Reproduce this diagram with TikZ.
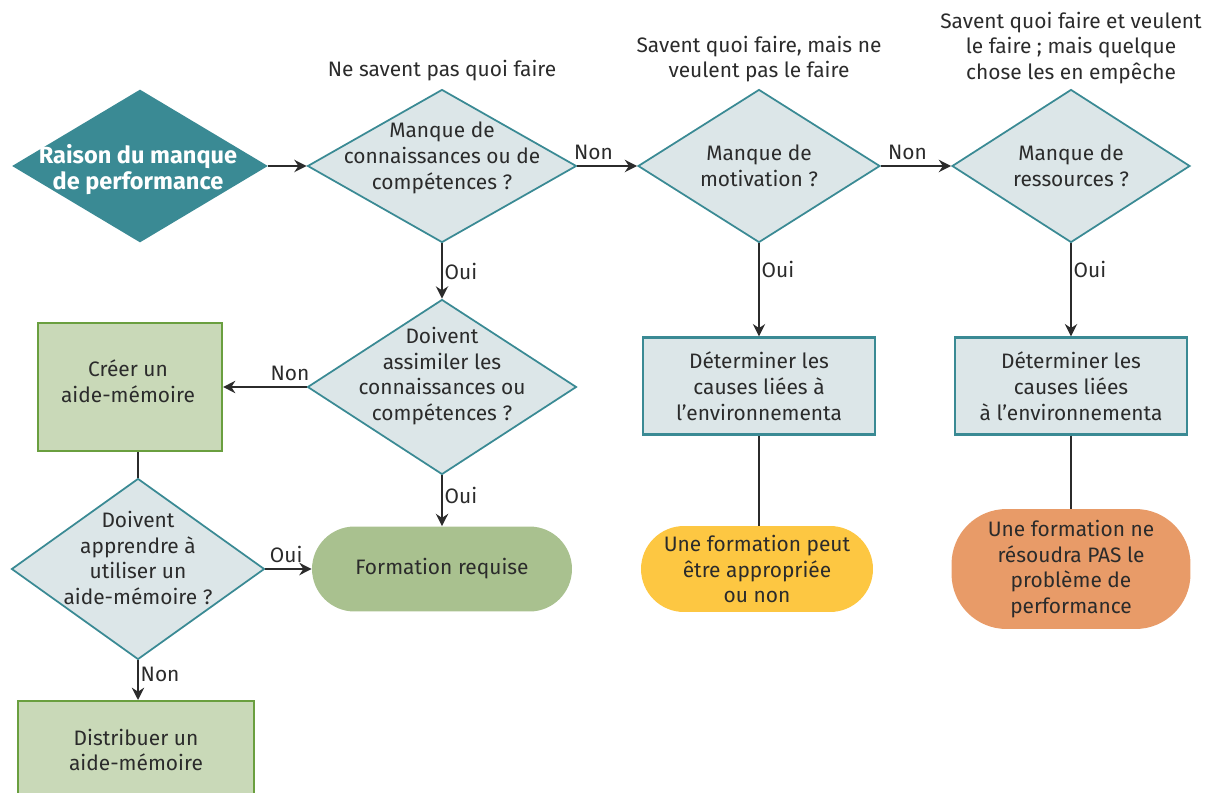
\documentclass[tikz,border=0pt]{standalone}
\usepackage{fontspec}
\setmainfont{Fira Sans}
\usetikzlibrary{shapes.geometric,shapes.misc,arrows.meta}
\definecolor{teal}{HTML}{3A8A94}
\definecolor{pale}{HTML}{DCE6E8}
\definecolor{leaf}{HTML}{C9D9B8}
\definecolor{leafedge}{HTML}{6A9F3F}
\definecolor{sage}{HTML}{A9C18F}
\definecolor{sun}{HTML}{FDC742}
\definecolor{clay}{HTML}{E89B68}
\definecolor{ink}{HTML}{2B2B2B}
\tikzset{
  base/.style={font=\fontsize{11.9}{14.7}\selectfont, text=ink, align=center},
  decision/.style={diamond, draw=teal, fill=pale, line width=1pt, inner sep=0pt},
  stepbox/.style={rectangle, draw=teal, fill=pale, line width=1.3pt, minimum width=4.64cm, minimum height=1.94cm},
  actbox/.style={rectangle, draw=leafedge, fill=leaf, line width=1.2pt},
  pill/.style={rectangle, inner sep=0pt},
  flow/.style={draw=ink, line width=1.1pt, -{Stealth[length=7pt,width=7pt]}},
  plain/.style={draw=ink, line width=1.1pt},
  lab/.style={base, inner sep=1pt},
}
\begin{document}
\begin{tikzpicture}[x=0.02cm, y=-0.02cm]
\useasboundingbox (0,0) rectangle (1216,793);

% decisions
\node[diamond, fill=teal, inner sep=0pt, minimum width=5.12cm, minimum height=3.06cm] (start) at (140,166) {};
\node[base, text=white, font=\fontsize{13.4}{14.8}\selectfont\bfseries] (starttxt) at (138,170) {Raison du manque\\de performance};

\node[decision, minimum width=5.38cm, minimum height=3.06cm] (d1) at (442,166) {};
\node[base] (d1t) at (442,158) {Manque de\\connaissances ou de\\compétences ?};

\node[decision, minimum width=4.84cm, minimum height=3.06cm] (d2) at (759,166) {};
\node[base] (d2t) at (759,166) {Manque de\\motivation ?};

\node[decision, minimum width=4.76cm, minimum height=3.06cm] (d3) at (1071,166) {};
\node[base] (d3t) at (1071,166) {Manque de\\ressources ?};

\node[decision, minimum width=5.38cm, minimum height=3.5cm] (d4) at (442,387) {};
\node[base] (d4t) at (442,376) {Doivent\\assimiler les\\connaissances ou\\compétences ?};

\node[decision, minimum width=5.06cm, minimum height=3.62cm] (d5) at (138,569) {};
\node[base] (d5t) at (138,558) {Doivent\\apprendre à\\utiliser un\\aide-mémoire ?};

% headings above the decisions
\node[base] (h1) at (442,71) {Ne savent pas quoi faire};
\node[base] (h2) at (759,59) {Savent quoi faire, mais ne\\veulent pas le faire};
\node[base] (h3) at (1071,48) {Savent quoi faire et veulent\\le faire ; mais quelque\\chose les en empêche};

% actions
\node[actbox, chamfered rectangle, chamfered rectangle corners={north east}, chamfered rectangle xsep=0.54cm, chamfered rectangle ysep=0.52cm, minimum width=3.68cm, minimum height=2.56cm, inner sep=0pt] (make) at (130,387) {};
\node[base] (maket) at (128,381) {Créer un\\aide-mémoire};

\node[actbox, minimum width=4.72cm, minimum height=2.4cm, anchor=north] (give) at (136,700) {};
\node[base] (givet) at (136,750) {Distribuer un\\aide-mémoire};

\node[stepbox, base] (env1) at (759,386) {Déterminer les\\causes liées à\\l’environnementa};
\node[stepbox, base] (env2) at (1071,386) {Déterminer les\\causes liées\\à l’environnementa};

% outcomes
\node[pill, base, fill=sage, rounded corners=0.85cm, minimum width=5.2cm, minimum height=1.7cm] (train) at (442,569) {Formation requise};
\node[pill, base, fill=sun, rounded corners=0.86cm, minimum width=4.64cm, minimum height=1.72cm] (maybe) at (757,569) {Une formation peut\\être appropriée\\ou non};
\node[pill, base, fill=clay, rounded corners=1.1cm, minimum width=4.78cm, minimum height=2.4cm] (nope) at (1071,569) {Une formation ne\\résoudra PAS le\\problème de\\performance};

% connectors
\draw[flow] (start.east) -- (d1.west);
\draw[flow] (d1.east) -- node[lab, above=2pt, pos=0.27] {Non} (d2.west);
\draw[flow] (d2.east) -- node[lab, above=2pt, pos=0.38] {Non} (d3.west);
\draw[flow] (d1.south) -- node[lab, right] {Oui} (d4.north);
\draw[flow] (d2.south) -- node[lab, right, pos=0.28] {Oui} (env1.north);
\draw[flow] (d3.south) -- node[lab, right, pos=0.28] {Oui} (env2.north);
\draw[flow] (d4.west) -- node[lab, above=2pt, pos=0.2] {Non} (make.east |- d4.west);
\draw[flow] (d4.south) -- node[lab, right, pos=0.4] {Oui} (train.north);
\draw[plain] (make.south -| d5.north) -- (d5.north);
\draw[flow] (d5.east) -- node[lab, above=2pt, pos=0.45] {Oui} (train.west);
\draw[flow] (d5.south) -- node[lab, right, pos=0.35] {Non} (give.north -| d5.south);
\draw[plain] (env1.south) -- (maybe.north -| env1.south);
\draw[plain] (env2.south) -- (nope.north);
\end{tikzpicture}
\end{document}
